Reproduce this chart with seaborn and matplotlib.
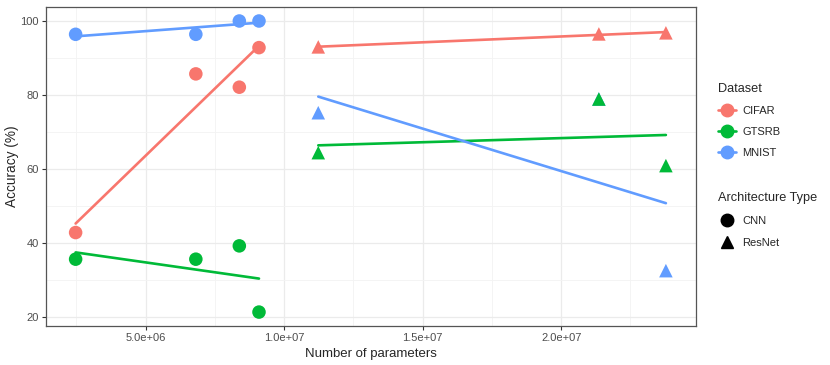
import matplotlib
matplotlib.use("Agg")
import matplotlib.pyplot as plt
from matplotlib.lines import Line2D
from matplotlib.ticker import MultipleLocator, FuncFormatter
import seaborn as sns
import pandas as pd

# ---- data ----
cnn_params = [2.47e6, 6.81e6, 8.38e6, 9.09e6]
resnet_params = [11.23e6, 21.36e6, 23.78e6]

mnist_cnn = [96.4, 96.4, 100.0, 100.0]
cifar_cnn = [42.8, 85.7, 82.1, 92.8]
gtsrb_cnn = [35.6, 35.6, 39.2, 21.3]

mnist_resnet = [75.2, 78.9, 32.5]
cifar_resnet = [93.0, 96.5, 96.8]
gtsrb_resnet = [64.4, 78.9, 60.9]

datasets = ["CIFAR", "GTSRB", "MNIST"]
architectures = ["CNN", "ResNet"]
palette = {"CIFAR": "#F8766D", "GTSRB": "#00BA38", "MNIST": "#619CFF"}

rows = []
# draw order: MNIST first so hidden points sit beneath
for ds, cnn_vals, res_vals in [("MNIST", mnist_cnn, mnist_resnet),
                               ("CIFAR", cifar_cnn, cifar_resnet),
                               ("GTSRB", gtsrb_cnn, gtsrb_resnet)]:
    for p, v in zip(cnn_params, cnn_vals):
        rows.append({"Dataset": ds, "Architecture": "CNN", "params": p, "acc": v})
    for p, v in zip(resnet_params, res_vals):
        rows.append({"Dataset": ds, "Architecture": "ResNet", "params": p, "acc": v})
df = pd.DataFrame(rows)

sns.set_style("white")
plt.rcParams["font.family"] = ["Liberation Sans", "DejaVu Sans"]

fig = plt.figure(figsize=(8.3, 3.65), dpi=100)
ax = fig.add_axes([0.0554, 0.107, 0.7826, 0.875])

sns.scatterplot(data=df, x="params", y="acc", hue="Dataset", style="Architecture",
                hue_order=datasets, style_order=architectures,
                markers={"CNN": "o", "ResNet": "^"}, palette=palette,
                s=95, linewidth=0, legend=False, ax=ax, zorder=3)

for ds in datasets:
    for arch in architectures:
        sub = df[(df.Dataset == ds) & (df.Architecture == arch)]
        sns.regplot(data=sub, x="params", y="acc", ci=None, scatter=False,
                    color=palette[ds], line_kws={"linewidth": 1.9, "zorder": 4},
                    ax=ax)

ax.set_xlim(1.40e6, 24.85e6)
ax.set_ylim(17.55, 103.9)
ax.xaxis.set_major_locator(MultipleLocator(5e6))
ax.xaxis.set_minor_locator(MultipleLocator(2.5e6))
ax.yaxis.set_major_locator(MultipleLocator(20))
ax.yaxis.set_minor_locator(MultipleLocator(10))
ax.xaxis.set_major_formatter(FuncFormatter(lambda v, p: "%.1e" % v))

ax.grid(True, which="major", color="#EBEBEB", linewidth=0.9)
ax.grid(True, which="minor", color="#F3F3F3", linewidth=0.6)
ax.set_axisbelow(True)
for sp in ax.spines.values():
    sp.set_color("#555555")
    sp.set_linewidth(0.9)
ax.tick_params(axis="both", which="major", length=3, width=0.8, color="#333333",
               labelsize=8, labelcolor="#4D4D4D", pad=2, direction="out",
               bottom=True, left=True)
ax.tick_params(axis="both", which="minor", length=0)
ax.set_xlabel("Number of parameters", fontsize=9.5, labelpad=3.5)
ax.set_ylabel("Accuracy (%)", fontsize=9.8, labelpad=1)

# legends
ds_handles = [Line2D([0], [0], color=palette[d], marker="o", markersize=9,
                     linewidth=1.9) for d in datasets]
leg1 = fig.legend(ds_handles, datasets, title="Dataset", loc="upper left",
                  bbox_to_anchor=(0.853, 0.80), frameon=False, fontsize=8,
                  title_fontsize=9.2, handlelength=1.6, handletextpad=0.6,
                  labelspacing=0.98, alignment="left")
arch_handles = [Line2D([0], [0], color="black", marker=m, markersize=9,
                       linewidth=0) for m in ["o", "^"]]
leg2 = fig.legend(arch_handles, architectures, title="Architecture Type",
                  loc="upper left", bbox_to_anchor=(0.853, 0.50), frameon=False,
                  fontsize=8, title_fontsize=9.2, handlelength=1.6,
                  handletextpad=0.6, labelspacing=1.05, alignment="left")

fig.savefig("out.png", dpi=100)
